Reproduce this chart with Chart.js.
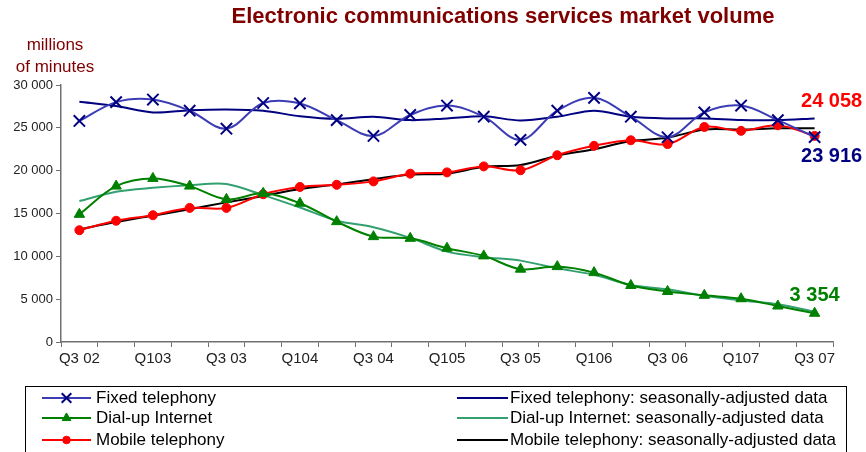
<!DOCTYPE html>
<html>
<head>
<meta charset="utf-8">
<script src="https://cdn.jsdelivr.net/npm/chart.js@4.4.1/dist/chart.umd.min.js"></script>
<style>
  html, body { margin: 0; padding: 0; background: #fff; }
  #wrap { width: 866px; height: 452px; position: relative; }
</style>
</head>
<body>
<div id="wrap"><canvas id="grafica" width="866" height="452"></canvas></div>
<script>
// Trimestres (solo se muestran uno de cada dos en el eje)
const trimestres = ["Q3 02", "Q4 02", "Q103", "Q2 03", "Q3 03", "Q4 03", "Q104", "Q2 04",
    "Q3 04", "Q4 04", "Q105", "Q2 05", "Q3 05", "Q4 05", "Q106", "Q2 06",
    "Q3 06", "Q4 06", "Q107", "Q2 07", "Q3 07"];

const telefoniaFija = [25800, 28000, 28300, 27000, 24900, 27900, 27850, 25900, 24050, 26500,
    27600, 26300, 23600, 27000, 28500, 26300, 23900, 26800, 27600, 25900, 23916];
const telefoniaFijaDesest = [28050, 27550, 26800, 27050, 27150, 27000, 26350, 26050, 26300, 25900,
    26100, 26350, 25850, 26300, 27000, 26300, 26100, 26100, 25900, 25900, 26100];

const internetConmutado = [14900, 18200, 19100, 18200, 16650, 17350, 16200, 14050, 12300, 12100,
    10950, 10050, 8500, 8800, 8100, 6600, 5900, 5450, 5050, 4200, 3354];
const internetConmutadoDesest = [16450, 17550, 18000, 18300, 18450, 17150, 15700, 14150, 13400, 12150,
    10550, 9900, 9500, 8600, 7850, 6650, 6150, 5400, 4850, 4400, 3550];

const telefoniaMovil = [13050, 14150, 14800, 15650, 15650, 17250, 18100, 18350, 18750, 19650,
    19800, 20500, 20050, 21800, 22900, 23550, 23100, 25100, 24650, 25300, 24058];
const telefoniaMovilDesest = [13150, 14000, 14750, 15500, 16300, 17050, 17850, 18400, 19000, 19550,
    19650, 20450, 20650, 21750, 22500, 23450, 23850, 24800, 24800, 24950, 24950];

const ticksY = [0, 5000, 10000, 15000, 20000, 25000, 30000];

const etiquetasFinales = [
    { serie: 0, texto: "24 058", color: "#ff0000", dx: 17, dy: -34 },
    { serie: 1, texto: "23 916", color: "#000080", dx: 17, dy: 19 },
    { serie: 2, texto: "3 354", color: "#008000", dx: 0, dy: -18 }
];

const FUENTE = "'Liberation Sans', Arial, sans-serif";

function fmt(v) {
    return String(v).replace(/\B(?=(\d{3})+(?!\d))/g, " ");
}

// Título, unidades, etiquetas de valor y leyenda dibujados a mano
const extras = {
    id: "extras",
    afterDraw(chart) {
        const ctx = chart.ctx;
        const x = chart.scales.x;
        const y = chart.scales.y;
        ctx.save();

        ctx.fillStyle = "#800000";
        ctx.textAlign = "center";
        ctx.textBaseline = "middle";
        ctx.font = "bold 22px " + FUENTE;
        ctx.fillText("Electronic communications services market volume", 503, 17);
        ctx.font = "17px " + FUENTE;
        ctx.fillText("millions", 55, 45);
        ctx.fillText("of minutes", 55, 67);

        // valores del último trimestre
        const ult = trimestres.length - 1;
        const series = [telefoniaMovil, telefoniaFija, internetConmutado];
        ctx.font = "bold 20px " + FUENTE;
        etiquetasFinales.forEach(e => {
            const px = x.getPixelForValue(ult);
            const py = y.getPixelForValue(series[e.serie][ult]);
            ctx.fillStyle = e.color;
            ctx.fillText(e.texto, px + e.dx, py + e.dy);
        });

        // leyenda en dos columnas
        ctx.strokeStyle = "#000";
        ctx.lineWidth = 1;
        ctx.strokeRect(25.5, 386.5, 821, 80);
        const ds = chart.data.datasets;
        const filas = [398, 418, 440];
        ctx.font = "17px " + FUENTE;
        ctx.textAlign = "left";
        ds.forEach((d, i) => {
            const col = i % 2;
            const fila = Math.floor(i / 2);
            const x0 = col === 0 ? 42 : 457;
            const x1 = col === 0 ? 91 : 508;
            const yy = filas[fila];
            ctx.strokeStyle = d.borderColor;
            ctx.lineWidth = 2;
            ctx.beginPath();
            ctx.moveTo(x0, yy);
            ctx.lineTo(x1, yy);
            ctx.stroke();
            if (d.pointStyle && d.pointRadius > 0) {
                ctx.fillStyle = d.pointBackgroundColor;
                ctx.strokeStyle = d.pointBorderColor;
                ctx.lineWidth = d.pointBorderWidth || 1;
                Chart.helpers.drawPoint(ctx, {
                    pointStyle: d.pointStyle,
                    radius: d.pointRadius * 0.85,
                    rotation: 0,
                    borderWidth: d.pointBorderWidth || 1
                }, (x0 + x1) / 2, yy);
            }
            ctx.fillStyle = "#000";
            ctx.fillText(d.label, col === 0 ? 96 : 510, yy);
        });

        ctx.restore();
    }
};

const ctx = document.getElementById("grafica").getContext("2d");

new Chart(ctx, {
    type: "line",
    data: {
        labels: trimestres,
        datasets: [
            {
                label: "Fixed telephony",
                data: telefoniaFija,
                borderColor: "#3c3cb4",
                borderWidth: 2,
                pointStyle: "crossRot",
                pointRadius: 8,
                pointBorderColor: "#000080",
                pointBackgroundColor: "#000080",
                pointBorderWidth: 2,
                tension: 0.35
            },
            {
                label: "Fixed telephony: seasonally-adjusted data",
                data: telefoniaFijaDesest,
                borderColor: "#000080",
                borderWidth: 2,
                pointRadius: 0,
                tension: 0.3
            },
            {
                label: "Dial-up Internet",
                data: internetConmutado,
                borderColor: "#008000",
                borderWidth: 2,
                pointStyle: "triangle",
                pointRadius: 6,
                pointBorderColor: "#008000",
                pointBackgroundColor: "#008000",
                pointBorderWidth: 1,
                tension: 0.35
            },
            {
                label: "Dial-up Internet: seasonally-adjusted data",
                data: internetConmutadoDesest,
                borderColor: "#33a070",
                borderWidth: 2,
                pointRadius: 0,
                tension: 0.3
            },
            {
                label: "Mobile telephony",
                data: telefoniaMovil,
                borderColor: "#ff0000",
                borderWidth: 2,
                pointStyle: "circle",
                pointRadius: 4.5,
                pointBorderColor: "#ff0000",
                pointBackgroundColor: "#ff0000",
                pointBorderWidth: 1,
                tension: 0.35
            },
            {
                label: "Mobile telephony: seasonally-adjusted data",
                data: telefoniaMovilDesest,
                borderColor: "#000000",
                borderWidth: 2,
                pointRadius: 0,
                tension: 0.3
            }
        ]
    },
    options: {
        responsive: false,
        animation: false,
        layout: { padding: { left: 0, top: 85, right: 33, bottom: 0 } },
        scales: {
            x: {
                offset: true,
                grid: { display: true, drawOnChartArea: false, offset: true, tickLength: 5, color: "#707070" },
                border: { color: "#707070", width: 1.5 },
                afterFit: s => { s.height = 110; },
                ticks: {
                    autoSkip: false,
                    maxRotation: 0,
                    padding: 3,
                    color: "#222",
                    font: { family: FUENTE, size: 15 },
                    callback: (v, i) => i % 2 === 0 ? trimestres[i] : ""
                }
            },
            y: {
                min: 0,
                max: 30000,
                afterFit: s => { s.width = 61; },
                afterBuildTicks: s => { s.ticks = ticksY.map(v => ({ value: v })); },
                grid: { display: true, drawOnChartArea: false, tickLength: 5, color: "#707070" },
                border: { color: "#707070", width: 1.5 },
                ticks: {
                    padding: 3,
                    color: "#222",
                    font: { family: FUENTE, size: 13 },
                    callback: v => fmt(v)
                }
            }
        },
        plugins: {
            legend: { display: false },
            title: { display: false },
            tooltip: { enabled: false }
        }
    },
    plugins: [extras]
});
</script>
</body>
</html>
